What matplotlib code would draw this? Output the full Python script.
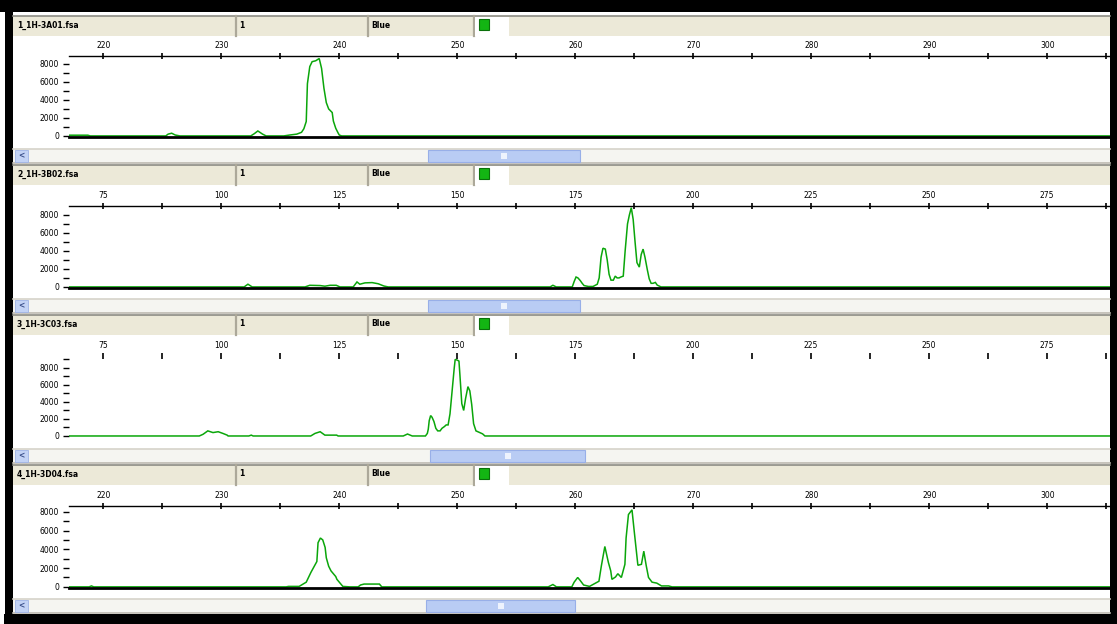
import matplotlib.pyplot as plt
from matplotlib.patches import Rectangle

# --- data ---

sample_names = ["1_1H-3A01.fsa", "2_1H-3B02.fsa", "3_1H-3C03.fsa", "4_1H-3D04.fsa"]
panel_numbers = ["1", "1", "1", "1"]
dye_names = ["Blue", "Blue", "Blue", "Blue"]

size_ticks_a = [220, 230, 240, 250, 260, 270, 280, 290, 300]
size_ticks_b = [75, 100, 125, 150, 175, 200, 225, 250, 275]
rfu_ticks = [0, 2000, 4000, 6000, 8000]
rfu_minor = [1000, 3000, 5000, 7000, 9000]

p1_size = [217.1, 218.7, 218.9, 225.3, 225.5, 225.8, 226.1, 226.5, 232.5, 232.8,
           233.1, 233.5, 233.8, 235.3, 235.8, 236.4, 236.8, 237.0, 237.2, 237.3,
           237.5, 237.7, 238.0, 238.3, 238.5, 238.7, 238.9, 239.1, 239.4, 239.5,
           239.7, 239.9, 240.0, 240.2, 305.3]
p1_rfu = [80, 80, 0, 0, 200, 300, 100, 0, 0, 250,
          550, 200, 0, 0, 100, 200, 400, 800, 1600, 5800,
          7700, 8250, 8350, 8600, 7500, 5300, 3700, 3000, 2600, 1650,
          850, 330, 100, 0, 0]

p2_size = [67.8, 104.9, 105.7, 106.6, 117.8, 118.8, 121.0, 122.0, 123.1, 124.4,
           125.2, 128.0, 128.8, 129.4, 130.5, 132.0, 133.3, 134.5, 135.4, 169.7,
           170.3, 171.0, 174.4, 174.8, 175.2, 175.6, 176.1, 176.5, 176.9, 177.8,
           178.8, 179.7, 180.1, 180.5, 180.9, 181.4, 181.8, 182.2, 182.6, 183.1,
           183.5, 183.9, 184.3, 184.7, 185.2, 185.6, 186.1, 186.5, 186.9, 187.3,
           187.7, 188.1, 188.6, 189.0, 189.4, 189.8, 190.3, 190.7, 191.1, 191.5,
           192.0, 192.4, 192.8, 193.2, 288.3]
p2_rfu = [0, 0, 300, 0, 0, 180, 150, 80, 180, 180,
          0, 0, 550, 300, 450, 480, 350, 100, 0, 0,
          180, 0, 0, 600, 1100, 1000, 700, 400, 150, 50,
          50, 300, 1000, 3300, 4300, 4200, 3000, 1400, 750, 750,
          1200, 1000, 1000, 1100, 1200, 4000, 7000, 8000, 8800, 7500,
          5000, 2700, 2200, 3600, 4200, 3300, 1900, 900, 400, 400,
          500, 200, 100, 0, 0]

p3_size = [67.8, 95.4, 96.2, 97.2, 98.3, 99.4, 100.4, 101.3, 101.5, 105.9,
           106.4, 106.8, 119.0, 119.9, 121.0, 121.5, 122.0, 124.5, 124.8, 138.6,
           139.5, 140.5, 143.3, 143.7, 143.9, 144.1, 144.4, 144.7, 145.1, 145.5,
           145.9, 146.4, 146.8, 147.3, 147.7, 148.1, 148.5, 148.9, 149.4, 149.6,
           150.1, 150.4, 150.6, 151.0, 151.4, 151.8, 152.3, 152.7, 153.1, 153.5,
           154.0, 154.4, 155.4, 155.9, 288.3]
p3_rfu = [0, 0, 200, 600, 400, 500, 300, 100, 0, 0,
          100, 0, 0, 300, 500, 300, 100, 100, 0, 0,
          230, 0, 0, 300, 800, 1800, 2400, 2200, 1700, 900,
          600, 600, 900, 1100, 1300, 1300, 2600, 5000, 8000, 9000,
          8900, 8800, 7200, 3800, 3000, 4400, 5800, 5300, 3700, 1450,
          600, 500, 250, 0, 0]

p4_size = [217.1, 218.8, 219.0, 219.2, 235.5, 235.7, 236.6, 237.2, 237.6, 238.1,
           238.2, 238.4, 238.6, 238.8, 238.9, 239.1, 239.3, 239.7, 239.8, 240.0,
           240.3, 240.9, 241.6, 241.8, 242.1, 243.4, 243.6, 257.7, 258.1, 258.4,
           259.7, 259.9, 260.2, 260.4, 260.7, 261.2, 262.0, 262.2, 262.4, 262.5,
           262.8, 263.0, 263.1, 263.4, 263.6, 263.9, 264.2, 264.3, 264.5, 264.8,
           265.0, 265.3, 265.6, 265.8, 266.0, 266.2, 266.5, 266.9, 267.3, 267.9,
           268.2, 305.3]
p4_rfu = [0, 0, 100, 0, 0, 50, 50, 500, 1550, 2700,
          4700, 5200, 5000, 4200, 3100, 2200, 1700, 1100, 800, 500,
          50, 0, 0, 200, 300, 300, 0, 0, 250, 0,
          0, 500, 1000, 700, 200, 50, 600, 2200, 3600, 4300,
          2600, 1700, 800, 1050, 1400, 1000, 2400, 5200, 7700, 8200,
          5800, 2300, 2400, 3800, 2300, 1000, 500, 400, 100, 100,
          0, 0]

# --- layout (pixels from top-left of the 1117x624 window) ---
W, H = 1117, 624
header_top = [16, 165, 315, 465]
axes_top = [56, 206, 356, 506]
axes_bottom = [137, 288, 437, 588]
scroll_top = [149, 299, 449, 599]
thumb_x = [(428, 580), (428, 580), (430, 585), (426, 575)]
ymax = [8880, 8990, 9400, 8610]

panels = [
    (p1_size, p1_rfu, size_ticks_a, (217.1, 305.3)),
    (p2_size, p2_rfu, size_ticks_b, (67.8, 288.3)),
    (p3_size, p3_rfu, size_ticks_b, (67.8, 288.3)),
    (p4_size, p4_rfu, size_ticks_a, (217.1, 305.3)),
]

TRACE_GREEN = "#0aa60a"
BEIGE = "#ece9d8"

fig = plt.figure(figsize=(W / 100, H / 100), dpi=100)
fig.patch.set_facecolor("white")

# background axes in pixel units, used for the window chrome
bg = fig.add_axes([0, 0, 1, 1])
bg.set_xlim(0, W)
bg.set_ylim(H, 0)
bg.axis("off")


def box(x0, y0, x1, y1, color, ec="none", lw=0, z=1):
    bg.add_patch(Rectangle((x0, y0), x1 - x0, y1 - y0, facecolor=color,
                           edgecolor=ec, linewidth=lw, zorder=z))


# black window frame
box(0, 0, W, 12, "black")
box(5, 0, 13, H, "black")
box(1110, 0, W, H, "black")
box(4, 614, W, H, "black")

for i in range(4):
    ht = header_top[i]
    # header row
    box(13, ht, 1110, ht + 20, BEIGE)
    bg.plot([13, 1110], [ht, ht], color="#8c8c84", lw=1.2, zorder=2)
    for sx in [236, 368, 474]:
        bg.plot([sx, sx], [ht, ht + 20], color="#aca899", lw=1.6, zorder=2)
    box(475, ht + 1, 509, ht + 20, "white", z=2)
    box(479, ht + 3, 489, ht + 14, "#13b513", ec="#0a700a", lw=0.8, z=3)
    bg.text(17, ht + 9, sample_names[i], fontsize=5.5, fontweight="bold",
            va="center", ha="left", zorder=3)
    bg.text(239, ht + 9, panel_numbers[i], fontsize=5.5, fontweight="bold",
            va="center", ha="left", zorder=3)
    bg.text(371, ht + 9, dye_names[i], fontsize=5.5, fontweight="bold",
            va="center", ha="left", zorder=3)

    # scroll bar
    st = scroll_top[i]
    box(13, st, 1110, st + 14, "#f5f5f1", z=1)
    bg.plot([13, 1110], [st, st], color="#d6d3ca", lw=1.2, zorder=2)
    bg.plot([13, 1110], [st + 14, st + 14], color="#bdbab1", lw=1.2, zorder=2)
    box(15, st + 1, 28, st + 13, "#c3d3f5", ec="#9fb4e6", lw=0.6, z=2)
    bg.text(21.5, st + 7, "<", fontsize=5.5, fontweight="bold", color="#3a4f8a",
            ha="center", va="center", zorder=3)
    tx0, tx1 = thumb_x[i]
    box(tx0, st + 1, tx1, st + 13, "#b9ccf4", ec="#98afe8", lw=0.8, z=2)
    mid = (tx0 + tx1) / 2
    box(mid - 3, st + 4, mid + 3, st + 10, "#eef3fd", z=3)

# electropherogram panels
for i, (size, rfu, xticks, xlim) in enumerate(panels):
    top, bottom = axes_top[i], axes_bottom[i]
    ax = fig.add_axes([69 / W, 1 - bottom / H, (1110 - 69) / W, (bottom - top) / H])
    ax.set_facecolor("none")
    ax.plot(size, rfu, color=TRACE_GREEN, lw=1.1, solid_joinstyle="miter")
    ax.set_xlim(*xlim)
    ax.set_ylim(-120, ymax[i])

    ax.spines["left"].set_visible(False)
    ax.spines["right"].set_visible(False)
    if i == 2:
        ax.spines["top"].set_visible(False)
        ax.spines["bottom"].set_visible(False)
    else:
        ax.spines["top"].set_linewidth(1.0)
        ax.spines["bottom"].set_linewidth(2.0)

    step = xticks[1] - xticks[0]
    ax.set_xticks(xticks)
    ax.set_xticks([t + step / 2 for t in xticks], minor=True)
    ax.set_xticklabels([str(t) for t in xticks])
    ax.xaxis.set_ticks_position("top")
    ax.xaxis.set_label_position("top")
    ax.tick_params(axis="x", which="both", direction="inout", length=5, width=1.2,
                   labelsize=5.5, pad=2)

    ax.set_yticks(rfu_ticks)
    ax.set_yticks([m for m in rfu_minor if m < ymax[i]], minor=True)
    ax.set_yticklabels([str(t) for t in rfu_ticks])
    ax.tick_params(axis="y", which="both", direction="out", length=4, width=1.0,
                   labelsize=5.5, pad=3)

fig.savefig("out.png", dpi=100)
